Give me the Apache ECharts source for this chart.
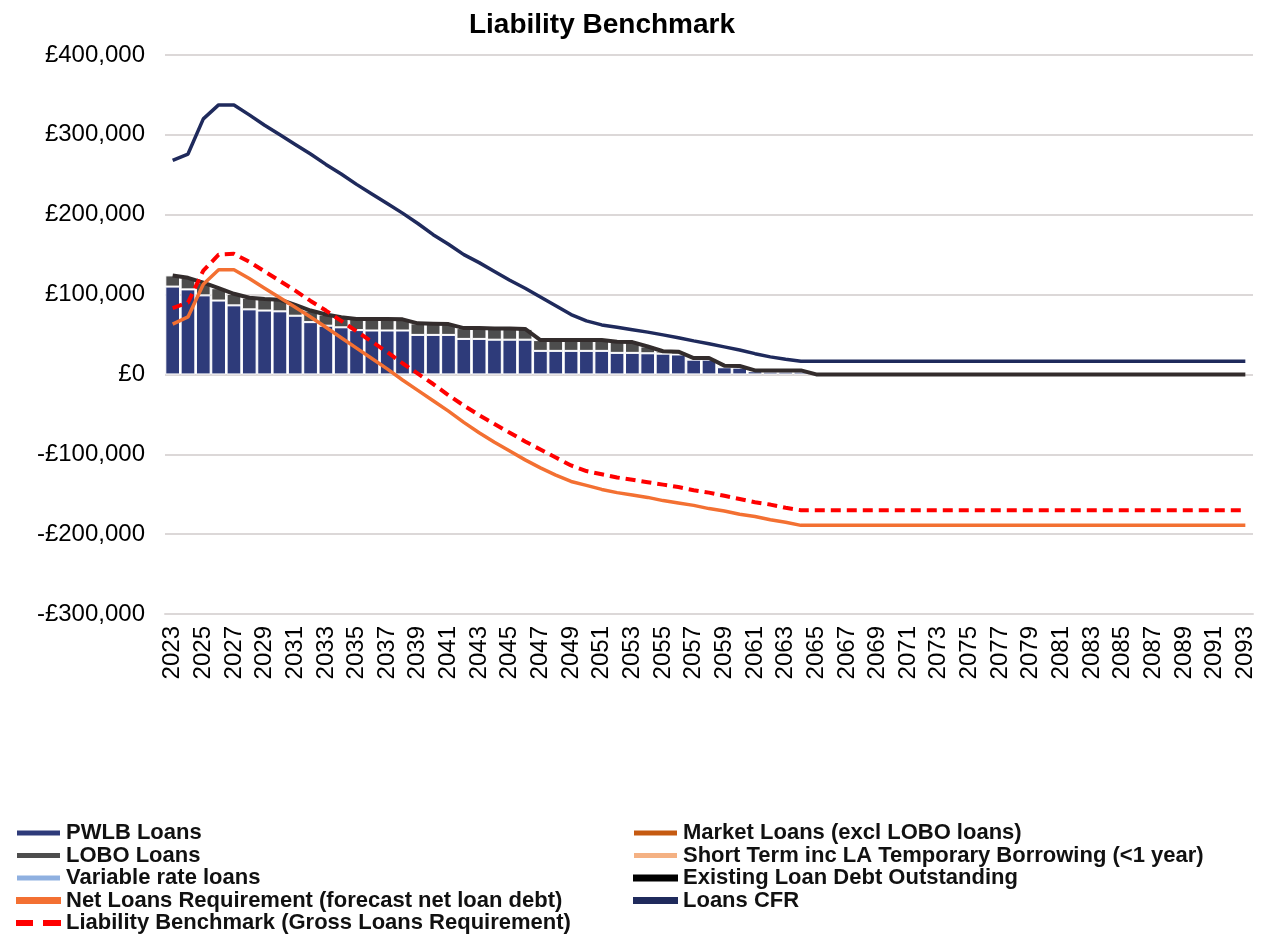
<!DOCTYPE html>
<html>
<head>
<meta charset="utf-8">
<script src="https://cdn.jsdelivr.net/npm/echarts@6/dist/echarts.min.js"></script>
<style>html,body{margin:0;padding:0;background:#fff;}#c{width:1268px;height:935px;}</style>
</head>
<body>
<div id="c"></div>
<script>
// Values in £ thousands
const years = ['2023','2024','2025','2026','2027','2028','2029','2030','2031','2032','2033','2034','2035','2036','2037','2038','2039','2040','2041','2042','2043','2044','2045','2046','2047','2048','2049','2050','2051','2052','2053','2054','2055','2056','2057','2058','2059','2060','2061','2062','2063','2064','2065','2066','2067','2068','2069','2070','2071','2072','2073','2074','2075','2076','2077','2078','2079','2080','2081','2082','2083','2084','2085','2086','2087','2088','2089','2090','2091','2092','2093'];

const pwlb = [110,106.5,99,92.5,86.5,81.5,80,79,73.5,65.5,61,59,55.5,55,55,55,49.5,49.5,49.5,44.5,44.5,43.5,43.5,43.5,29.5,29.5,29.5,29.5,29.5,27,27,26.5,26,25,18.5,18.5,9,8.5,4,3.5,3.5,3.5,
  null,null,null,null,null,null,null,null,null,null,null,null,null,null,null,null,null,null,null,null,null,null,null,null,null,null,null,null,null];
const lobo = [14,14.5,16,15.5,14.5,14.5,14.5,14.5,13.5,14.5,14,12.5,14,14.5,14.5,14,14.5,14,13.5,13.5,13.5,14,14,13.5,13.5,13.5,13.5,13.5,13.5,14,13.5,8.5,3,3.5,2,2,2,2,1,1.5,1.5,1.5,
  null,null,null,null,null,null,null,null,null,null,null,null,null,null,null,null,null,null,null,null,null,null,null,null,null,null,null,null,null];
const variableRate = [];
const marketLoans = [];
const shortTerm = [];
const existingDebt = [124,121,115,108,101,96,94.5,93.5,87,80,75,71.5,69.5,69.5,69.5,69,64,63.5,63,58,58,57.5,57.5,57,43,43,43,43,43,41,40.5,35,29,28.5,20.5,20.5,11,10.5,5,5,5,5,
  0,0,0,0,0,0,0,0,0,0,0,0,0,0,0,0,0,0,0,0,0,0,0,0,0,0,0,0,0];
const netLoans = [63,72,113,131,131,120,108,96,84,72,59,46,33,20,7,-7,-20,-33,-46,-60,-73,-85,-96,-107,-117,-126,-134,-139,-144,-148,-151,-154,-158,-161,-164,-168,-171,-175,-178,-182,-185,-189,
  -189,-189,-189,-189,-189,-189,-189,-189,-189,-189,-189,-189,-189,-189,-189,-189,-189,-189,-189,-189,-189,-189,-189,-189,-189,-189,-189,-189,-189];
const liabilityBenchmark = [83,90,130,150,151,141,129,117,105,92,80,67,54,41,28,14,1,-12,-26,-39,-51,-62,-73,-84,-94,-104,-114,-121,-125,-129,-132,-135,-138,-141,-145,-148,-152,-156,-160,-163,-167,-170,
  -170,-170,-170,-170,-170,-170,-170,-170,-170,-170,-170,-170,-170,-170,-170,-170,-170,-170,-170,-170,-170,-170,-170,-170,-170,-170,-170,-170,-170];
const loansCFR = [268,276,320,337.5,337.5,325,312,300,288,276,263,251,238,226,214,202,189,175,163,150,140,129,118,108,97,86,75,67,62,59,56,53,49.5,46,42,38.5,34.5,30.5,26,22,19,16.5,
  16.5,16.5,16.5,16.5,16.5,16.5,16.5,16.5,16.5,16.5,16.5,16.5,16.5,16.5,16.5,16.5,16.5,16.5,16.5,16.5,16.5,16.5,16.5,16.5,16.5,16.5,16.5,16.5,16.5];

const K = a => a.map(v => (v === null || v === undefined) ? null : v * 1000);
const fmt = v => (v < 0 ? '-' : '') + '£' + Math.abs(v).toLocaleString('en-GB');

const FONT = '"Liberation Sans", Arial, sans-serif';
const chart = echarts.init(document.getElementById('c'), null, {renderer: 'canvas'});

const legendText = {fontFamily: FONT, fontSize: 22, fontWeight: 'bold', color: '#111', lineHeight: 22};
const dashIcon = 'path://M0,0h17v6h-17z M27,0h18v6h-18z';

chart.setOption({
  animation: false,
  backgroundColor: '#fff',
  title: {
    text: 'Liability Benchmark', left: 597, top: 6, textAlign: 'center',
    textStyle: {fontFamily: FONT, fontSize: 28, fontWeight: 'bold', color: '#000'}
  },
  grid: {left: 165, right: 15, top: 55, bottom: 321, containLabel: false},
  legend: [
    {
      orient: 'vertical', left: 15, top: 822, height: 120, padding: 0, itemWidth: 45, itemHeight: 7, itemGap: 0.5,
      selectedMode: false, textStyle: legendText,
      data: [
        {name: 'PWLB Loans', icon: 'rect'},
        {name: 'LOBO Loans', icon: 'rect'},
        {name: 'Variable rate loans', icon: 'rect'},
        {name: 'Net Loans Requirement (forecast net loan debt)', icon: 'rect'},
        {name: 'Liability Benchmark (Gross Loans Requirement)', icon: dashIcon}
      ]
    },
    {
      orient: 'vertical', left: 632, top: 822, height: 120, padding: 0, itemWidth: 45, itemHeight: 7, itemGap: 0.5,
      selectedMode: false, textStyle: legendText,
      data: [
        {name: 'Market Loans (excl LOBO loans)', icon: 'rect'},
        {name: 'Short Term inc LA Temporary Borrowing (<1 year)', icon: 'rect'},
        {name: 'Existing Loan Debt Outstanding', icon: 'rect'},
        {name: 'Loans CFR', icon: 'rect'}
      ]
    }
  ],
  xAxis: {
    type: 'category', data: years, boundaryGap: true,
    axisLine: {onZero: false, lineStyle: {color: '#DCD8D8', width: 2}},
    axisTick: {show: false},
    axisLabel: {rotate: 90, interval: 1, margin: 12, fontFamily: FONT, fontSize: 24, color: '#000'},
    splitLine: {show: false}
  },
  yAxis: {
    type: 'value', min: -300000, max: 400000, interval: 100000,
    axisLine: {show: false}, axisTick: {show: false},
    axisLabel: {formatter: fmt, margin: 20, fontFamily: FONT, fontSize: 24, color: '#000'},
    splitLine: {lineStyle: {color: '#DCD8D8', width: 2}}
  },
  series: [
    {name: 'PWLB Loans', type: 'bar', stack: 'debt', data: K(pwlb), barCategoryGap: '4%',
     itemStyle: {color: '#2E3B7A', borderColor: '#fff', borderWidth: 1}},
    {name: 'LOBO Loans', type: 'bar', stack: 'debt', data: K(lobo),
     itemStyle: {color: '#4D4D4D', borderColor: '#fff', borderWidth: 1}},
    {name: 'Variable rate loans', type: 'bar', stack: 'debt', data: K(variableRate),
     itemStyle: {color: '#8FB0E0', borderColor: '#fff', borderWidth: 1}},
    {name: 'Market Loans (excl LOBO loans)', type: 'bar', stack: 'debt', data: K(marketLoans),
     itemStyle: {color: '#C55A11', borderColor: '#fff', borderWidth: 1}},
    {name: 'Short Term inc LA Temporary Borrowing (<1 year)', type: 'bar', stack: 'debt', data: K(shortTerm),
     itemStyle: {color: '#F4B183', borderColor: '#fff', borderWidth: 1}},
    {name: 'Existing Loan Debt Outstanding', type: 'line', data: K(existingDebt), symbol: 'none',
     lineStyle: {color: '#332C2C', width: 4}, itemStyle: {color: '#000'}, z: 3},
    {name: 'Loans CFR', type: 'line', data: K(loansCFR), symbol: 'none',
     lineStyle: {color: '#1F2A5C', width: 3.5}, itemStyle: {color: '#1F2A5C'}, z: 4},
    {name: 'Net Loans Requirement (forecast net loan debt)', type: 'line', data: K(netLoans), symbol: 'none',
     lineStyle: {color: '#F37032', width: 3.5}, itemStyle: {color: '#F37032'}, z: 5},
    {name: 'Liability Benchmark (Gross Loans Requirement)', type: 'line', data: K(liabilityBenchmark), symbol: 'none',
     lineStyle: {color: '#FF0000', width: 4, type: [10, 6]}, itemStyle: {color: '#FF0000'}, z: 6}
  ]
});
</script>
</body>
</html>
